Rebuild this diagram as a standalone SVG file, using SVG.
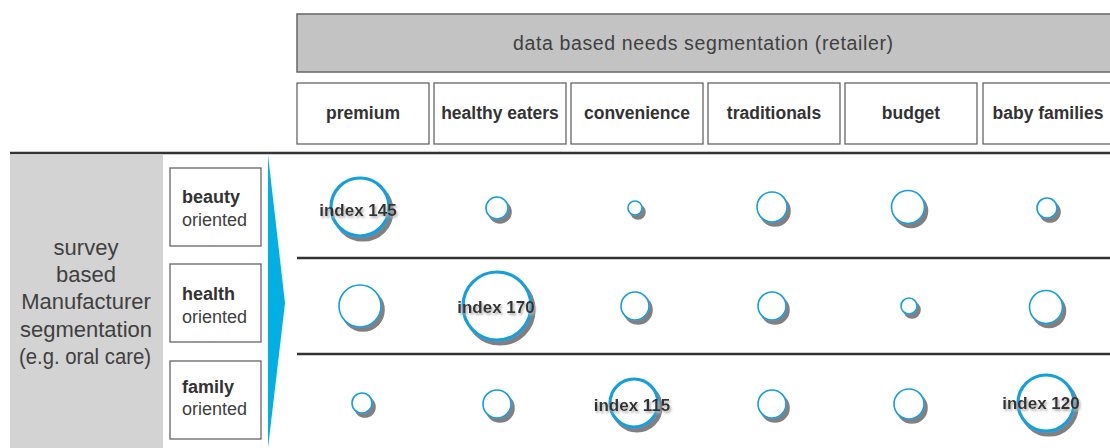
<svg xmlns="http://www.w3.org/2000/svg" width="1110" height="448" viewBox="0 0 1110 448">
<style>
.hdr{fill:#c3c3c3;stroke:#666;stroke-width:1.5}
.box{fill:#fff;stroke:#666;stroke-width:1.3}
.col{font-family:"Liberation Sans",Arial,sans-serif;font-weight:bold;font-size:17.5px;fill:#333;text-anchor:middle}
.lbl{font-family:"Liberation Sans",Arial,sans-serif;font-size:18px;fill:#404040}
.lblb{font-weight:bold;fill:#333}
.left{font-family:"Liberation Sans",Arial,sans-serif;font-size:22px;fill:#404040;text-anchor:middle}
.sep{stroke:#333;stroke-width:2.5}
.c{fill:#fff;stroke:#129fdf;stroke-width:1.6;filter:url(#sh)}
.cb{fill:#fff;stroke:#129fdf;stroke-width:3.2;filter:url(#sh)}
.idx{font-family:"Liberation Sans",Arial,sans-serif;font-weight:bold;font-size:17px;fill:#333;text-anchor:middle;filter:url(#tsh)}
</style>
<defs>
<filter id="sh" x="-30%" y="-30%" width="170%" height="170%">
<feDropShadow dx="3" dy="4" stdDeviation="0.6" flood-color="#808080" flood-opacity="1"/>
</filter>
<filter id="tsh" x="-10%" y="-30%" width="130%" height="170%">
<feDropShadow dx="1.5" dy="2" stdDeviation="1.2" flood-color="#b0b0b0" flood-opacity="1"/>
</filter>
</defs>
<rect width="1110" height="448" fill="#fff"/>

<g id="header">
<rect class="hdr" x="297" y="14" width="820" height="58"/>
<text x="703" y="50" font-family="Liberation Sans,Arial,sans-serif" font-size="19.5" fill="#404040" text-anchor="middle" textLength="380" lengthAdjust="spacing">data based needs segmentation (retailer)</text>
</g>

<g id="col-premium"><rect class="box" x="297" y="83" width="132" height="61"/><text class="col" x="363" y="119">premium</text></g>
<g id="col-healthy"><rect class="box" x="434" y="83" width="132" height="61"/><text class="col" x="500" y="119">healthy eaters</text></g>
<g id="col-convenience"><rect class="box" x="571" y="83" width="132" height="61"/><text class="col" x="637" y="119">convenience</text></g>
<g id="col-traditionals"><rect class="box" x="708" y="83" width="132" height="61"/><text class="col" x="774" y="119">traditionals</text></g>
<g id="col-budget"><rect class="box" x="845" y="83" width="132" height="61"/><text class="col" x="911" y="119">budget</text></g>
<g id="col-baby"><rect class="box" x="983" y="83" width="134" height="61"/><text class="col" x="1048" y="119">baby families</text></g>

<g id="left-panel">
<rect x="10" y="155" width="153" height="293" fill="#d3d3d3"/>
<text class="left" x="86" y="255">survey</text>
<text class="left" x="86" y="282">based</text>
<text class="left" x="86" y="309">Manufacturer</text>
<text class="left" x="86" y="337">segmentation</text>
<text class="left" x="85" y="364" textLength="132" lengthAdjust="spacingAndGlyphs">(e.g. oral care)</text>
</g>

<g id="row-beauty"><rect class="box" x="170" y="168" width="91" height="78"/><text class="lbl" x="182" y="203"><tspan class="lblb">beauty</tspan></text><text class="lbl" x="182" y="226">oriented</text></g>
<g id="row-health"><rect class="box" x="170" y="264" width="91" height="78"/><text class="lbl" x="182" y="300"><tspan class="lblb">health</tspan></text><text class="lbl" x="182" y="323">oriented</text></g>
<g id="row-family"><rect class="box" x="170" y="361" width="91" height="78"/><text class="lbl" x="182" y="393"><tspan class="lblb">family</tspan></text><text class="lbl" x="182" y="415">oriented</text></g>

<g id="connectors">
<line class="sep" x1="10" y1="153" x2="1110" y2="153"/>
<line class="sep" x1="297" y1="258" x2="1110" y2="258"/>
<line class="sep" x1="297" y1="354" x2="1110" y2="354"/>
<polygon points="268,155 285,303 268,448" fill="#00b0e2"/>
</g>

<g id="circles-beauty">
<circle class="cb" cx="360" cy="207" r="29"/>
<circle class="c" cx="497" cy="208" r="11"/>
<circle class="c" cx="635" cy="208" r="7"/>
<circle class="c" cx="772" cy="207" r="15"/>
<circle class="c" cx="908" cy="207" r="16.5"/>
<circle class="c" cx="1047" cy="208" r="10"/>
<text class="idx" x="358" y="216">index 145</text>
</g>
<g id="circles-health">
<circle class="c" cx="360" cy="306" r="21"/>
<circle class="cb" cx="497" cy="306" r="34"/>
<circle class="c" cx="635" cy="306" r="14"/>
<circle class="c" cx="772" cy="306" r="14"/>
<circle class="c" cx="909" cy="306" r="8"/>
<circle class="c" cx="1046" cy="307" r="16.5"/>
<text class="idx" x="496" y="313">index 170</text>
</g>
<g id="circles-family">
<circle class="c" cx="362" cy="403" r="10"/>
<circle class="c" cx="497" cy="404" r="14"/>
<circle class="cb" cx="634" cy="403" r="24"/>
<circle class="c" cx="772" cy="404" r="14"/>
<circle class="c" cx="909" cy="404" r="15"/>
<circle class="cb" cx="1046" cy="403" r="28"/>
<text class="idx" x="632" y="411">index 115</text>
<text class="idx" x="1041" y="409">index 120</text>
</g>
</svg>
